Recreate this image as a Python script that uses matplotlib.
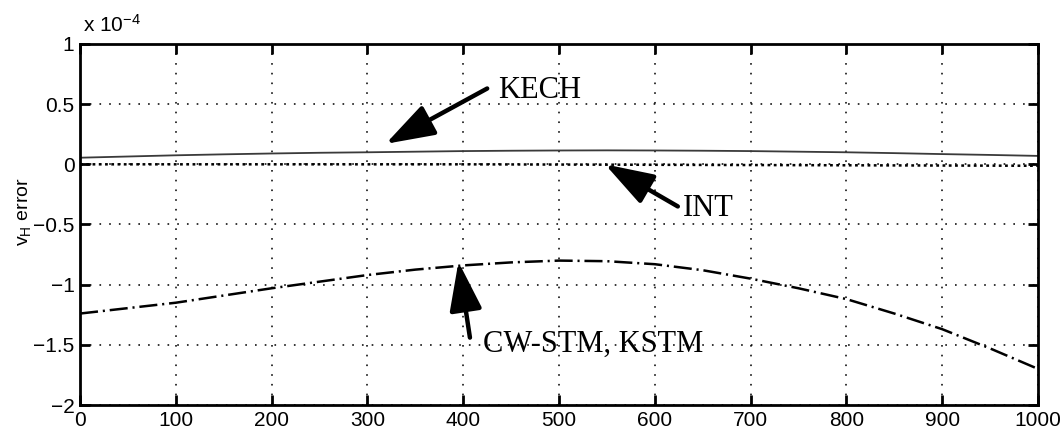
import matplotlib
matplotlib.use("Agg")
import matplotlib.pyplot as plt

# ---- data (values in units of 1e-4) ----
x_pts = [0, 50, 100, 150, 200, 250, 300, 350, 400, 450, 500,
         550, 600, 650, 700, 750, 800, 850, 900, 950, 1000]
kech = [0.055, 0.065, 0.075, 0.083, 0.09, 0.096, 0.10, 0.105, 0.11, 0.113, 0.115,
        0.116, 0.115, 0.113, 0.11, 0.105, 0.10, 0.093, 0.085, 0.078, 0.07]
intg = [0.0, 0.0, 0.0, 0.0, 0.0, 0.0, 0.0, 0.0, 0.0, -0.001, -0.002,
        -0.003, -0.004, -0.005, -0.006, -0.007, -0.008, -0.009, -0.01, -0.011, -0.012]
cwstm = [-1.24, -1.195, -1.15, -1.09, -1.03, -0.975, -0.92, -0.875, -0.84, -0.815, -0.80,
         -0.805, -0.83, -0.88, -0.95, -1.03, -1.12, -1.24, -1.37, -1.53, -1.70]

x_ticks = [0, 100, 200, 300, 400, 500, 600, 700, 800, 900, 1000]
y_ticks = [-2, -1.5, -1, -0.5, 0, 0.5, 1]
y_ticklabels = ["\u22122", "\u22121.5", "\u22121", "\u22120.5", "0", "0.5", "1"]

plt.rcParams['font.family'] = ['Liberation Sans', 'DejaVu Sans']
plt.rcParams['mathtext.fontset'] = 'custom'
plt.rcParams['mathtext.rm'] = 'Liberation Sans'
plt.rcParams['mathtext.it'] = 'Liberation Sans:italic'
plt.rcParams['lines.scale_dashes'] = False

fig = plt.figure(figsize=(10.63, 4.42), dpi=100)
ax = fig.add_axes([0.0753, 0.0837, 0.9012, 0.8168])

ax.plot(x_pts, kech, color='#3a3a3a', lw=1.3, solid_capstyle='butt')
ax.plot(x_pts, intg, color='black', lw=1.8, linestyle=(0, (2.0, 2.5)))
ax.plot(x_pts, cwstm, color='black', lw=1.8, linestyle=(0, (13, 3.5, 1.5, 3.5)))

ax.set_xlim(0, 1000)
ax.set_ylim(-2, 1)
ax.set_xticks(x_ticks)
ax.set_xticklabels([str(v) for v in x_ticks])
ax.set_yticks(y_ticks)
ax.set_yticklabels(y_ticklabels)
ax.tick_params(direction='in', length=7, width=2, top=True, right=True,
               labelsize=15)
ax.tick_params(axis='x', pad=4)
ax.tick_params(axis='y', pad=4)
for s in ax.spines.values():
    s.set_linewidth(2)
ax.grid(True, color='black', linestyle=(0, (1.2, 5.8)), linewidth=1.1)

# annotations
arrow = dict(arrowstyle='-|>,head_length=1.5,head_width=0.5', lw=3.2,
             color='black', shrinkA=0, shrinkB=0, mutation_scale=20)
ax.annotate('', xy=(319, 0.17), xytext=(425, 0.63), arrowprops=arrow)
ax.text(436, 0.55, 'KECH', fontsize=22, family='Liberation Serif', va='baseline')

ax.annotate('', xy=(548, 0.0), xytext=(624, -0.35), arrowprops=arrow)
ax.text(629, -0.433, 'INT', fontsize=22, family='Liberation Serif', va='baseline')

ax.annotate('', xy=(395, -0.81), xytext=(407, -1.44), arrowprops=arrow)
ax.text(421, -1.56, 'CW-STM, KSTM', fontsize=22, family='Liberation Serif', va='baseline')

fig.text(83 / 1063, 1 - 32 / 442, r'x 10$^{-4}$', fontsize=15, ha='left', va='baseline')
fig.text(24 / 1063, 1 - 212 / 442, r'v$_\mathregular{H}$ error', fontsize=14,
         rotation=90, ha='center', va='center')

fig.savefig('out.png', dpi=100)
